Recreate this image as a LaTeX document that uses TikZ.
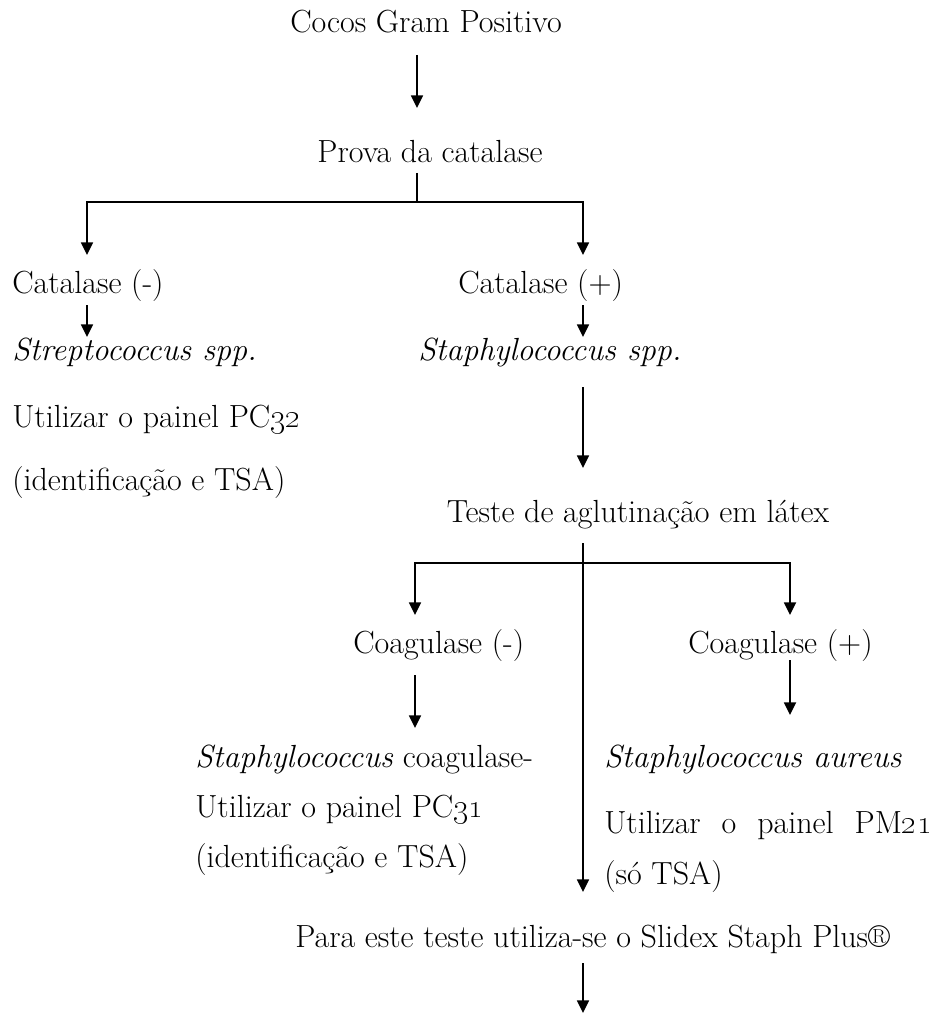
\documentclass[tikz,border=0pt]{standalone}
\usetikzlibrary{arrows.meta}
\begin{document}
\begin{tikzpicture}[x=0.75pt,y=-0.75pt,
  txt/.style={inner sep=0pt,font=\fontsize{24}{28}\selectfont},
  ln/.style={line width=1.3pt},
  arr/.style={line width=1.3pt,-{Triangle[length=9.5pt,width=9pt]}}]
\useasboundingbox (0,0) rectangle (934,1013);
% texts
\node[txt,anchor=base] (cocos) at (426,33) {Cocos Gram Positivo};
\node[txt,anchor=base] (prova) at (430,162) {Prova da catalase};
\node[txt,anchor=base west] (catneg) at (12,293) {Catalase (-)};
\node[txt,anchor=base west] (catpos) at (458,293) {Catalase (+)};
\node[txt,anchor=base west] (strep) at (12,360) {\itshape Streptococcus spp.};
\node[txt,anchor=base west] (staph) at (418,360) {\itshape Staphylococcus spp.};
\node[txt,anchor=base west] (pcA) at (12,427) {Utilizar o painel PC\oldstylenums{32}};
\node[txt,anchor=base west] (identA) at (12,490) {(identificação e TSA)};
\node[txt,anchor=base] (teste) at (638,522) {Teste de aglutinação em látex};
\node[txt,anchor=base west] (coagneg) at (353,653) {Coagulase (-)};
\node[txt,anchor=base west] (coagpos) at (688,653) {Coagulase (+)};
\node[txt,anchor=base west] (staphcoag) at (195,767) {\textit{Staphylococcus} coagulase-};
\node[txt,anchor=base west] (aureus) at (604,767) {\itshape Staphylococcus aureus};
\node[txt,anchor=base west] (pcB) at (195,817) {Utilizar o painel PC\oldstylenums{31}};
\node[txt,anchor=base west] (identB) at (195,867) {(identificação e TSA)};
\node[txt,anchor=base west] (pm) at (604,833) {\makebox[246pt][s]{Utilizar o painel PM\oldstylenums{21}}};
\node[txt,anchor=base west] (sotsa) at (604,884) {(só TSA)};
\node[txt,anchor=base west] (para) at (295,947) {Para este teste utiliza-se o Slidex Staph Plus®};
% connector points
\coordinate (c1s) at (417,55);   \coordinate (c1e) at (417,108);
\coordinate (p0) at (417,173);   \coordinate (pj) at (417,202);
\coordinate (pl) at (87,202);    \coordinate (pr) at (583,202);
\coordinate (ple) at (87,255);   \coordinate (pre) at (583,255);
\coordinate (ns) at (87,305);    \coordinate (ne) at (87,337);
\coordinate (ps) at (583,305);   \coordinate (pe) at (583,337);
\coordinate (ls) at (583,387);   \coordinate (le) at (583,468);
\coordinate (t0) at (583,543);   \coordinate (tj) at (583,563);
\coordinate (tl) at (415,563);   \coordinate (tr) at (790,563);
\coordinate (tle) at (415,615);  \coordinate (tre) at (790,615);
\coordinate (te) at (583,892);
\coordinate (cns) at (415,675);  \coordinate (cne) at (415,728);
\coordinate (cps) at (790,660);  \coordinate (cpe) at (790,715);
\coordinate (fs) at (583,963);   \coordinate (fe) at (583,1013);
% connectors
\draw[arr] (c1s) -- (c1e);
\draw[ln] (p0) -- (pj);
\draw[arr] (pj) -- (pl) -- (ple);
\draw[arr] (pj) -- (pr) -- (pre);
\draw[arr] (ns) -- (ne);
\draw[arr] (ps) -- (pe);
\draw[arr] (ls) -- (le);
\draw[arr] (t0) -- (te);
\draw[arr] (tj) -- (tl) -- (tle);
\draw[arr] (tj) -- (tr) -- (tre);
\draw[arr] (cns) -- (cne);
\draw[arr] (cps) -- (cpe);
\draw[arr] (fs) -- (fe);
\end{tikzpicture}
\end{document}
